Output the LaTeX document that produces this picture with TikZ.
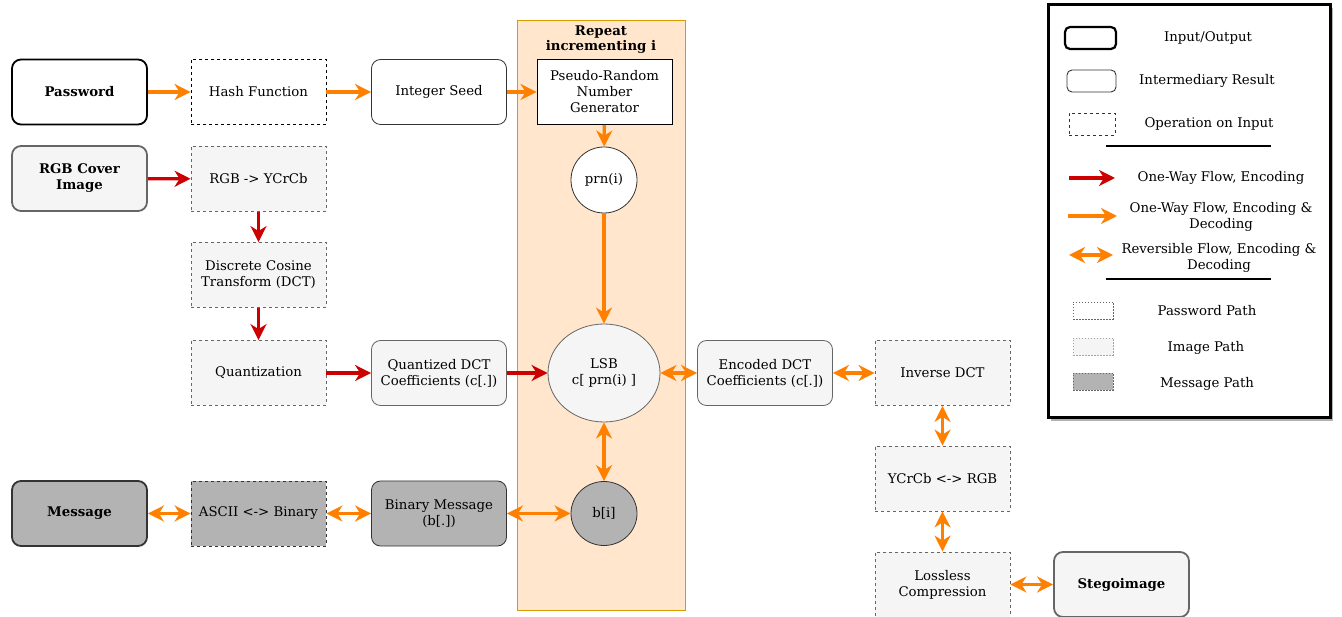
\documentclass[tikz,border=0pt]{standalone}
\usepackage{fontspec}
\setmainfont{DejaVu Serif}
\usetikzlibrary{arrows.meta,shapes.geometric}
\definecolor{org}{HTML}{FF8000}
\definecolor{rd}{HTML}{CC0000}
\definecolor{lgf}{HTML}{F5F5F5}
\definecolor{lgd}{HTML}{666666}
\definecolor{dkf}{HTML}{B3B3B3}
\definecolor{dkd}{HTML}{333333}
\definecolor{repf}{HTML}{FFE6CC}
\definecolor{repd}{HTML}{D79B00}
\tikzset{
  txt/.style={font=\fontsize{13.3}{16}\selectfont},
  box/.style={draw, minimum width=135pt, minimum height=65pt, align=center, inner sep=2pt, txt},
  iobox/.style={box, rounded corners=9pt, line width=1.8pt},
  midbox/.style={box, rounded corners=9pt, line width=0.8pt},
  opbox/.style={box, line width=0.8pt, dash pattern=on 3pt off 3pt},
  pw/.style={fill=white, draw=black},
  im/.style={fill=lgf, draw=lgd},
  ms/.style={fill=dkf, draw=dkd},
  tipa/.tip={Stealth[length=16pt,width=16pt,inset=5pt]},
  oneway/.style={line width=3.3pt, -tipa},
  twoway/.style={line width=3.3pt, tipa-tipa},
  lgtext/.style={txt, align=center},
}
\begin{document}
\begin{tikzpicture}[x=1pt,y=-1pt]
\useasboundingbox (0,0) rectangle (1342,617);
% repeat region
\node[draw=repd, fill=repf, line width=0.8pt, minimum width=168pt, minimum height=590pt, inner sep=0pt] (rep) at (601,315) {};
\node[font=\bfseries\fontsize{13.3}{15}\selectfont, align=center] (reptitle) at (601,40) {Repeat\\incrementing i};

% password path
\node[iobox, pw] (pass) at (79.5,92) {\bfseries Password};
\node[opbox, pw] (hash) at (258.5,92) {Hash Function};
\node[midbox, pw, draw=dkd] (seed) at (439,92) {Integer Seed};
\node[box, pw, line width=0.8pt] (prng) at (604.5,92) {Pseudo-Random\\Number\\Generator};
\node[circle, draw=dkd, fill=white, line width=0.8pt, minimum size=66pt, inner sep=0pt, txt] (prn) at (604,180) {prn(i)};

% image path
\node[iobox, im] (cover) at (79.5,178.5) {\bfseries RGB Cover\\\bfseries Image};
\node[opbox, im] (ycc) at (258.5,179) {RGB -> YCrCb};
\node[opbox, im] (dct) at (258.5,275) {Discrete Cosine\\Transform (DCT)};
\node[opbox, im] (quant) at (258.5,373) {Quantization};
\node[midbox, im] (qdct) at (439,373) {Quantized DCT\\Coefficients (c[.])};
\node[ellipse, draw=lgd, fill=lgf, line width=0.8pt, minimum width=112pt, minimum height=98pt, inner sep=0pt, align=center, txt] (lsb) at (604,373) {LSB\\c[ prn(i) ]};
\node[midbox, im] (edct) at (765,373) {Encoded DCT\\Coefficients (c[.])};
\node[opbox, im] (idct) at (942.5,373) {Inverse DCT};
\node[opbox, im] (rgb) at (942.5,478.5) {YCrCb <-> RGB};
\node[opbox, im] (loss) at (942.5,584.5) {Lossless\\Compression};
\node[iobox, im] (stego) at (1121.5,584.5) {\bfseries Stegoimage};

% message path
\node[iobox, ms] (msg) at (79.5,513.5) {\bfseries Message};
\node[opbox, ms] (ascii) at (258.5,513.5) {ASCII <-> Binary};
\node[midbox, ms] (bin) at (439,513.5) {Binary Message\\(b[.])};
\node[ellipse, draw=dkd, fill=dkf, line width=0.8pt, minimum width=66pt, minimum height=64pt, inner sep=0pt, txt] (bi) at (604,513.5) {b[i]};

% connectors
\draw[oneway, org] (pass) -- (hash);
\draw[oneway, org] (hash) -- (seed);
\draw[oneway, org] (seed) -- (prng);
\draw[oneway, org] (prng) -- (prn);
\draw[oneway, org] (prn) -- (lsb);
\draw[oneway, rd] (cover) -- (ycc);
\draw[oneway, rd] (ycc) -- (dct);
\draw[oneway, rd] (dct) -- (quant);
\draw[oneway, rd] (quant) -- (qdct);
\draw[oneway, rd] (qdct) -- (lsb);
\draw[twoway, org] (lsb) -- (bi);
\draw[twoway, org] (lsb) -- (edct);
\draw[twoway, org] (edct) -- (idct);
\draw[twoway, org] (idct) -- (rgb);
\draw[twoway, org] (rgb) -- (loss);
\draw[twoway, org] (loss) -- (stego);
\draw[twoway, org] (msg) -- (ascii);
\draw[twoway, org] (ascii) -- (bin);
\draw[twoway, org] (bin) -- (bi);

% legend
\fill[black!30] (1051,8) rectangle (1333,421);
\node[draw=black, fill=white, line width=3pt, minimum width=282pt, minimum height=413pt, inner sep=0pt] (legend) at (1189,211.5) {};
\node[draw=black, line width=2.2pt, rounded corners=5pt, minimum width=51pt, minimum height=22pt, inner sep=0pt] (lio) at (1090.5,38) {};
\node[lgtext] (lio t) at (1208,38) {Input/Output};
\node[draw=dkd, line width=0.9pt, rounded corners=5pt, minimum width=49pt, minimum height=22pt, inner sep=0pt] (lmid) at (1091.5,81) {};
\node[lgtext] (lmid t) at (1207,81) {Intermediary Result};
\node[draw=dkd, line width=0.8pt, dash pattern=on 3pt off 3pt, minimum width=46pt, minimum height=22pt, inner sep=0pt] (lop) at (1092,124) {};
\node[lgtext] (lop t) at (1209,124) {Operation on Input};
\coordinate (l1a) at (1106,146); \coordinate (l1b) at (1271,146);
\draw[line width=2.2pt] (l1a) -- (l1b);
\coordinate (ra) at (1069,178); \coordinate (rb) at (1115,178);
\draw[oneway, rd] (ra) -- (rb);
\node[lgtext] (r t) at (1221,178) {One-Way Flow, Encoding};
\coordinate (oa) at (1068,216); \coordinate (ob) at (1117,216);
\draw[oneway, org] (oa) -- (ob);
\node[lgtext] (o t) at (1221,217) {One-Way Flow, Encoding \&\\Decoding};
\coordinate (da) at (1069,255); \coordinate (db) at (1113,255);
\draw[twoway, org] (da) -- (db);
\node[lgtext] (d t) at (1219,257.5) {Reversible Flow, Encoding \&\\Decoding};
\coordinate (l2a) at (1106,279); \coordinate (l2b) at (1271,279);
\draw[line width=2.2pt] (l2a) -- (l2b);
\node[draw=lgd, fill=white, line width=0.7pt, dash pattern=on 1.5pt off 1.5pt, minimum width=40pt, minimum height=17pt, inner sep=0pt] (lpw) at (1093,310.5) {};
\node[lgtext] (lpw t) at (1207,311) {Password Path};
\node[draw=lgd!60, fill=lgf, line width=0.7pt, dash pattern=on 1.5pt off 1.5pt, minimum width=40pt, minimum height=17pt, inner sep=0pt] (lim) at (1093,346.5) {};
\node[lgtext] (lim t) at (1206,348) {Image Path};
\node[draw=lgd, fill=dkf, line width=0.7pt, dash pattern=on 1.5pt off 1.5pt, minimum width=40pt, minimum height=17pt, inner sep=0pt] (lms) at (1093,381.5) {};
\node[lgtext] (lms t) at (1207,384) {Message Path};
\end{tikzpicture}
\end{document}
